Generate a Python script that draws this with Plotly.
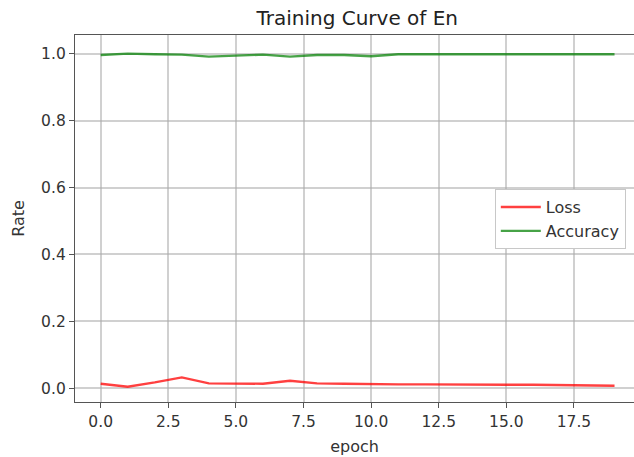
import plotly.graph_objects as go

epochs = list(range(20))
loss = [0.014, 0.005, 0.018, 0.033, 0.015, 0.014, 0.014, 0.023, 0.015, 0.014,
        0.012, 0.012, 0.012, 0.011, 0.010, 0.011, 0.011, 0.010, 0.011, 0.008]
accuracy = [0.996, 1.0, 0.998, 0.997, 0.991, 0.995, 0.997, 0.991, 0.996, 0.996,
            0.992, 0.998, 0.998, 0.997, 0.998, 0.997, 0.998, 0.998, 0.998, 0.998]
x_ticks = [0, 2.5, 5, 7.5, 10, 12.5, 15, 17.5]
x_tick_labels = ["0.0", "2.5", "5.0", "7.5", "10.0", "12.5", "15.0", "17.5"]
y_ticks = [0.0, 0.2, 0.4, 0.6, 0.8, 1.0]
y_tick_labels = ["0.0", "0.2", "0.4", "0.6", "0.8", "1.0"]

font = "DejaVu Sans"
fig = go.Figure()
fig.add_trace(go.Scatter(x=epochs, y=loss, mode="lines", name="Loss",
                         line=dict(color="rgba(255,0,0,0.75)", width=2.4)))
fig.add_trace(go.Scatter(x=epochs, y=accuracy, mode="lines", name="Accuracy",
                         line=dict(color="rgba(0,128,0,0.72)", width=2.4)))

axis_common = dict(showgrid=True, gridcolor="rgba(170,170,170,0.55)", gridwidth=1.6,
                   zeroline=False, showline=True, linecolor="#555", linewidth=1.3,
                   ticks="outside", ticklen=5, tickcolor="#555", automargin=False,
                   tickfont=dict(family=font, size=15.5, color="#333"))
fig.update_layout(
    width=634, height=457,
    margin=dict(l=75, r=0, t=35, b=55),
    paper_bgcolor="white", plot_bgcolor="white",
    title=dict(text="Training Curve of En", x=0.5635, xanchor="center", y=0.9606, yanchor="middle",
               font=dict(family=font, size=20, color="#222")),
    xaxis=dict(range=[-0.95, 19.72], tickvals=x_ticks, ticktext=x_tick_labels,
               title=dict(text="epoch", font=dict(family=font, size=16, color="#333"), standoff=11),
               mirror=True, **axis_common),
    yaxis=dict(range=[-0.0406, 1.0556], tickvals=y_ticks, ticktext=y_tick_labels,
               title=dict(text="Rate", font=dict(family=font, size=16, color="#333"), standoff=12),
               **axis_common),
    legend=dict(x=0.751, y=0.580, xanchor="left", yanchor="top", itemwidth=40,
                bgcolor="white", bordercolor="rgba(200,200,200,1)", borderwidth=1,
                font=dict(family=font, size=16, color="#333")),
    showlegend=True,
)
fig.write_html("out.html", config={"displayModeBar": False},
               post_script="document.body.style.margin='0px';")
